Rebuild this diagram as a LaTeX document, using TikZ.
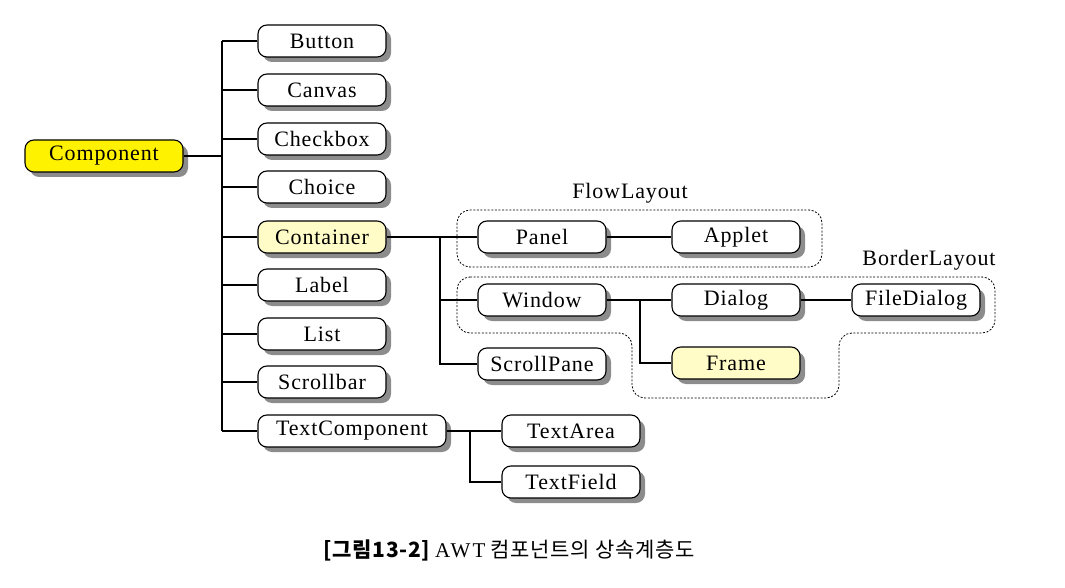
\documentclass[tikz,border=0pt]{standalone}
\usepackage{fontspec}
\setmainfont{Liberation Serif}
\newfontfamily\classfont[LetterSpace=4]{Liberation Serif}
\newfontfamily\cjk[LetterSpace=3]{Noto Sans CJK KR}
\newfontfamily\capfont[LetterSpace=10]{Liberation Serif}
\usetikzlibrary{shadows}

\tikzset{
  cls/.style={draw, line width=1.1pt, rounded corners=9pt, fill=white,
    minimum width=128pt, minimum height=32pt, inner sep=2pt,
    font=\classfont\fontsize{22}{24}\selectfont,
    drop shadow={shadow xshift=5pt, shadow yshift=-5pt, fill=black!45, opacity=1}},
  hot/.style={fill=yellow},
  pale/.style={fill=yellow!22},
  link/.style={line width=1.3pt},
  group/.style={dash pattern=on 2pt off 1.6pt, line width=0.8pt, rounded corners=13pt},
  grouplabel/.style={font=\classfont\fontsize{22}{24}\selectfont}
}

\begin{document}
\begin{tikzpicture}[x=1pt, y=-1pt]
\useasboundingbox (0,0) rectangle (1065,588);

% layout groups
\draw[group] (457,210) rectangle (822,267);
\node[grouplabel] (flowlbl) at (630,193) {FlowLayout};
\draw[group] (457,277) -- (995,277) -- (995,333) -- (839,333)
  -- (839,398) -- (632,398) -- (632,333) -- (457,333) -- cycle;
\node[grouplabel] (borderlbl) at (929,260) {BorderLayout};

% classes
\node[cls, hot, minimum width=158pt] (comp) at (104,156) {Component};
\node[cls] (button)    at (322,41)  {Button};
\node[cls] (canvas)    at (322,90)  {Canvas};
\node[cls] (checkbox)  at (322,139) {Checkbox};
\node[cls] (choice)    at (322,187) {Choice};
\node[cls, pale] (container) at (322,237) {Container};
\node[cls] (label)     at (322,285) {Label};
\node[cls] (list)      at (322,334) {List};
\node[cls] (scrollbar) at (322,382) {Scrollbar};
\node[cls, minimum width=188pt] (textcomp) at (352,431) {TextComponent};

\node[cls] (panel)      at (542,237) {Panel};
\node[cls] (applet)     at (736,237) {Applet};
\node[cls] (window)     at (542,300) {Window};
\node[cls] (scrollpane) at (542,364) {ScrollPane};
\node[cls] (dialog)     at (736,300) {Dialog};
\node[cls, pale] (frame) at (736,363) {Frame};
\node[cls] (filedialog) at (916,300) {FileDialog};
\node[cls, minimum width=138pt] (textarea)  at (571,431) {TextArea};
\node[cls, minimum width=138pt] (textfield) at (571,482) {TextField};

% connectors
\coordinate (trunktop) at (222,41);
\coordinate (trunkbot) at (222,431);
\draw[link] (trunktop) -- (trunkbot);
\draw[link] (comp.east) -- (trunktop |- comp.east);
\foreach \n in {button,canvas,checkbox,choice,container,label,list,scrollbar,textcomp}
  \draw[link] (trunktop |- \n.west) -- (\n.west);

\coordinate (contjoin) at (440,237);
\draw[link] (container.east) -- (panel.west);
\draw[link] (contjoin) -- (contjoin |- scrollpane.west) -- (scrollpane.west);
\draw[link] (contjoin |- window.west) -- (window.west);
\draw[link] (panel.east) -- (applet.west);

\coordinate (winjoin) at (640,300);
\draw[link] (window.east) -- (dialog.west);
\draw[link] (winjoin) -- (winjoin |- frame.west) -- (frame.west);
\draw[link] (dialog.east) -- (filedialog.west);

\coordinate (textjoin) at (470,431);
\draw[link] (textcomp.east) -- (textarea.west);
\draw[link] (textjoin) -- (textjoin |- textfield.west) -- (textfield.west);

% caption
\node[font=\fontsize{21}{24}\selectfont] (caption) at (509,550)
  {{\cjk\bfseries [그림13-2]} {\capfont AWT} {\cjk 컴포넌트의 상속계층도}};
\end{tikzpicture}
\end{document}
